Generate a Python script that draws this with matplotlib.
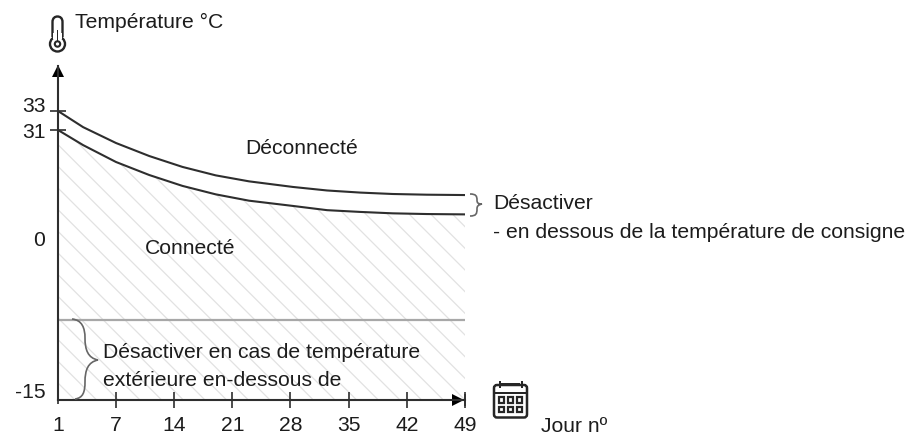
import matplotlib
matplotlib.use("Agg")
import matplotlib.pyplot as plt
import numpy as np
from matplotlib.path import Path
from matplotlib.patches import PathPatch, Circle, FancyBboxPatch, Rectangle
from matplotlib.transforms import Affine2D

plt.rcParams['font.family'] = ['Liberation Sans', 'DejaVu Sans']
plt.rcParams['hatch.linewidth'] = 0.7

# (the axes are schematic, not linear)
days = [1, 3.6, 7, 11, 15, 19, 23, 28.3, 32.4, 36.4, 40.3, 44.4, 49]
off_curve = [33, 31.3, 27.3, 23.6, 20.5, 18.1, 16.4, 14.8, 13.8, 13.2, 12.8, 12.6, 12.5]
on_curve = [31, 26.7, 21.9, 18.2, 15.1, 12.7, 10.9, 9.4, 8.2, 7.7, 7.3, 7.1, 7.0]
limit_temp = -7.5

x_ticks = [1, 7, 14, 21, 28, 35, 42, 49]
y_ticks = [-15, 0, 31, 33]
y_labels = ['-15', '0', '31', '33']
y_label_shift = [8, -1, -2, 5]

W, H = 910, 434
DPI = 130  # hatch spacing follows the dpi
k = 100 / DPI
FS = 15.25 * k
DARK = '#2e2e2e'
TEXT = '#1c1c1c'


def x_fwd(v):
    return np.interp(v, [1, 7, 49], [0, 58, 407])


def x_inv(v):
    return np.interp(v, [0, 58, 407], [1, 7, 49])


def y_fwd(v):
    return np.interp(v, [-15, 0, 31, 33, 38], [0, 161, 270, 289, 334])


def y_inv(v):
    return np.interp(v, [0, 161, 270, 289, 334], [-15, 0, 31, 33, 38])


fig = plt.figure(figsize=(W / DPI, H / DPI), dpi=DPI)
ax = fig.add_axes([58 / W, 1 - 400 / H, 407 / W, 334 / H])
ax.set_xscale('function', functions=(x_fwd, x_inv))
ax.set_yscale('function', functions=(y_fwd, y_inv))
ax.set_xlim(1, 49)
ax.set_ylim(-15, 38)
ax.patch.set_alpha(0)

# pixel coordinates of the reference, for icons and free text
px = Affine2D().scale(1, -1).translate(0, H)

ax.fill_between(days, on_curve, -15, facecolor='none', edgecolor='#e2e2e2', hatch='\\\\', linewidth=0)
ax.plot(days, off_curve, color=DARK, lw=1.5 * k, solid_capstyle='butt')
ax.plot(days, on_curve, color=DARK, lw=1.5 * k, solid_capstyle='butt')
ax.axhline(limit_temp, color='#a8a8a8', lw=1.6 * k)

for side in ['top', 'right']:
    ax.spines[side].set_visible(False)
for side in ['left', 'bottom']:
    ax.spines[side].set_color(DARK)
    ax.spines[side].set_linewidth(1.5 * k)

ax.set_xticks(x_ticks, labels=[str(d) for d in x_ticks])
ax.tick_params(axis='x', direction='inout', length=11 * k, width=1.2 * k, color=DARK, pad=6 * k,
               labelsize=FS, labelcolor=TEXT)
ax.xaxis.get_major_ticks()[0].tick1line.set_markersize(6 * k)
ax.set_yticks([0, 31, 33], labels=[])
ax.tick_params(axis='y', direction='inout', length=11 * k, width=1.2 * k, color=DARK)
ax.yaxis.get_major_ticks()[0].tick1line.set_markersize(0)
ax.yaxis.get_major_ticks()[0].tick2line.set_visible(False)
for t, lab, shift in zip(y_ticks, y_labels, y_label_shift):
    ax.annotate(lab, (1, t), xytext=(-9 * k, shift * 0.72 * k), textcoords='offset points',
                ha='right', va='center', fontsize=FS, color=TEXT, annotation_clip=False)

# arrow heads
ax.plot([1], [37.4], marker='^', ms=9 * k, color='black', clip_on=False, mew=0)
ax.plot([48.2], [-15], marker='>', ms=9 * k, color='black', clip_on=False, mew=0)
ax.plot([49], [-15], marker='|', ms=9 * k, mew=1.2 * k, color=DARK, clip_on=False)


def ptext(x, y, s):
    fig.text(x / W, 1 - y / H, s, fontsize=FS, color=TEXT, va='center', ha='left')


ptext(75, 22, 'Température °C')
ptext(245, 148, 'Déconnecté')
ptext(145, 249, 'Connecté')
ptext(493, 204, 'Désactiver')
ptext(493, 232, '- en dessous de la température de consigne')
ptext(103, 353, 'Désactiver en cas de température')
ptext(103, 381, 'extérieure en-dessous de')
ptext(541, 426, 'Jour nº')


def add_px(artist):
    artist.set_clip_on(False)
    fig.add_artist(artist)
    artist.set_transform(px)


def add_path(verts, codes, color='#555555', lw=1.2):
    add_px(PathPatch(Path(verts, codes), facecolor='none', edgecolor=color, lw=lw * k))


M, C = Path.MOVETO, Path.CURVE4

# big brace left of the lower text
add_path([(72, 319), (82, 320), (85, 328), (85, 338), (85, 350), (88, 358), (98, 360),
          (88, 362), (85, 370), (85, 382), (85, 392), (83, 398), (75, 399)],
         [M, C, C, C, C, C, C, C, C, C, C, C, C], color='#666666')
# small brace right of the curves
add_path([(470, 194), (476, 194), (477, 196), (477, 200), (477, 203), (478, 204), (482, 204),
          (478, 205), (477, 206), (477, 209), (477, 214), (476, 216), (470, 216)],
         [M, C, C, C, C, C, C, C, C, C, C, C, C], color='#666666')

# thermometer icon
ICON = '#262626'
add_path([(52.5, 37), (52.5, 27), (52.5, 22), (52.5, 22), (52.5, 18), (55, 16.5), (57.5, 16.5),
          (60, 16.5), (62.5, 18), (62.5, 22), (62.5, 22), (62.5, 27), (62.5, 37)],
         [M, C, C, C, C, C, C, C, C, C, C, C, C], color=ICON, lw=1.7)
add_px(Circle((57.5, 44), 7.5, facecolor='none', edgecolor=ICON, lw=1.7 * k))
add_px(Rectangle((53.4, 33), 8.2, 6, facecolor='white', edgecolor='none'))
add_px(Circle((57.5, 44), 2.7, facecolor='none', edgecolor=ICON, lw=1.5 * k))
add_px(Rectangle((56.6, 30), 1.8, 11.5, facecolor=ICON, edgecolor='none'))

# calendar icon
add_px(FancyBboxPatch((494, 385), 33, 32.5, boxstyle='round,pad=0,rounding_size=3',
                      facecolor='none', edgecolor=ICON, lw=1.8 * k))
add_px(Rectangle((494, 392), 33, 2, facecolor=ICON, edgecolor='none'))
add_px(Rectangle((501, 383), 19, 1.2, facecolor=ICON, edgecolor='none'))
for cx in [499, 521]:
    add_px(Rectangle((cx, 381), 2, 7, facecolor=ICON, edgecolor='none'))
for cy in [397, 406.5]:
    for cx in [498.5, 507.5, 516.5]:
        add_px(Rectangle((cx, cy), 5.5, 5.5, facecolor='none', edgecolor=ICON, lw=1.6 * k))

fig.savefig('out.png', dpi=DPI)
